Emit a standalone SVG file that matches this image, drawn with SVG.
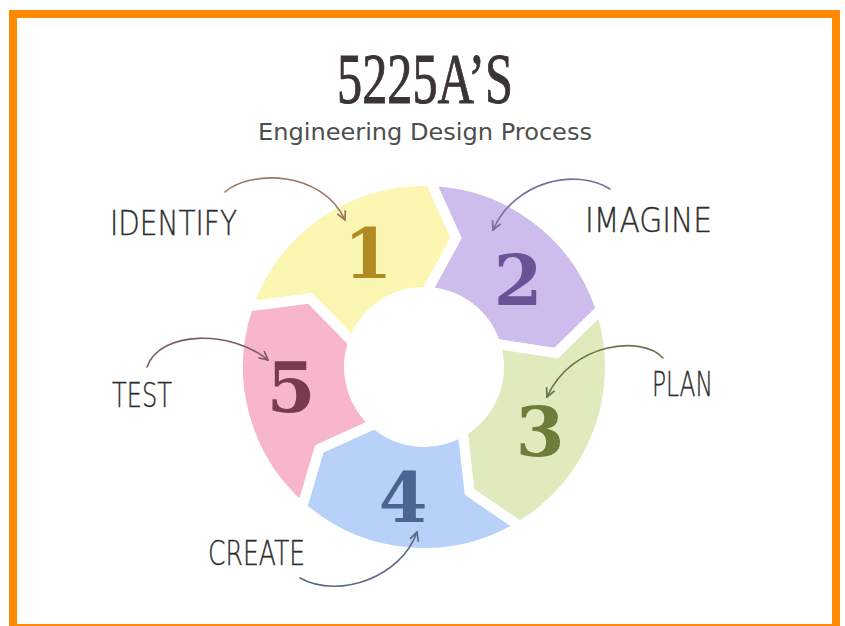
<svg xmlns="http://www.w3.org/2000/svg" width="845" height="626" viewBox="0 0 845 626">
  <style>
    .seg { stroke: #ffffff; stroke-width: 10; stroke-linejoin: miter; stroke-miterlimit: 12; }
    .num { font-family: "DejaVu Serif", "Liberation Serif", serif; font-weight: bold; font-size: 70px; text-anchor: middle; }
    .lbl { font-family: "DejaVu Sans", "Liberation Sans", sans-serif; font-weight: 200; font-size: 34px; fill: #2e2e2e; stroke: #2e2e2e; stroke-width: 0.4; }
    .conn { fill: none; stroke-width: 1.6; stroke-linecap: round; }
  </style>
  <defs>
    <marker id="ah-gold" viewBox="0 0 10 10" refX="9" refY="5" markerWidth="11" markerHeight="11" markerUnits="userSpaceOnUse" orient="auto">
      <path d="M1,1 L9,5 L1,9" fill="none" stroke="#9b7562" stroke-width="1.6"/>
    </marker>
    <marker id="ah-violet" viewBox="0 0 10 10" refX="9" refY="5" markerWidth="11" markerHeight="11" markerUnits="userSpaceOnUse" orient="auto">
      <path d="M1,1 L9,5 L1,9" fill="none" stroke="#7b6d9c" stroke-width="1.6"/>
    </marker>
    <marker id="ah-olive" viewBox="0 0 10 10" refX="9" refY="5" markerWidth="11" markerHeight="11" markerUnits="userSpaceOnUse" orient="auto">
      <path d="M1,1 L9,5 L1,9" fill="none" stroke="#66774f" stroke-width="1.6"/>
    </marker>
    <marker id="ah-slate" viewBox="0 0 10 10" refX="9" refY="5" markerWidth="11" markerHeight="11" markerUnits="userSpaceOnUse" orient="auto">
      <path d="M1,1 L9,5 L1,9" fill="none" stroke="#5b6a82" stroke-width="1.6"/>
    </marker>
    <marker id="ah-plum" viewBox="0 0 10 10" refX="9" refY="5" markerWidth="11" markerHeight="11" markerUnits="userSpaceOnUse" orient="auto">
      <path d="M1,1 L9,5 L1,9" fill="none" stroke="#7d5a68" stroke-width="1.6"/>
    </marker>
  </defs>

  <!-- page and orange frame -->
  <rect x="0" y="0" width="845" height="626" fill="#ffffff"/>
  <rect x="13" y="14" width="823" height="614" fill="#ffffff" stroke="#ff8a00" stroke-width="8"/>

  <!-- heading -->
  <g id="title">
    <text x="337" y="103" font-family="Liberation Serif, serif" font-size="72" fill="#3b3434" stroke="#3b3434" stroke-width="1" textLength="176" lengthAdjust="spacingAndGlyphs">5225A’S</text>
    <text x="258" y="140" font-family="DejaVu Sans, Liberation Sans, sans-serif" font-size="23" fill="#4e4e4e" textLength="334" lengthAdjust="spacingAndGlyphs">Engineering Design Process</text>
  </g>

  <!-- ring of five chevron segments, centre (424,367) -->
  <g id="step-1">
    <path class="seg" fill="#fbf6b2" d="M248.1,306.4 A186,186 0 0 1 430.5,181.1 L456.2,238.0 L426.6,292.0 A75,75 0 0 0 353.1,342.6 L310.0,298.5 Z"/>
    <text class="num" x="368" y="278" fill="#b08a22">1</text>
  </g>
  <g id="step-2">
    <path class="seg" fill="#cebdec" d="M430.5,181.1 A186,186 0 0 1 600.9,309.5 L556.3,353.1 L495.3,343.8 A75,75 0 0 0 426.6,292.0 L456.2,238.0 Z"/>
    <text class="num" x="518" y="305" fill="#6b5196">2</text>
  </g>
  <g id="step-3">
    <path class="seg" fill="#dfeabd" d="M600.9,309.5 A186,186 0 0 1 519.8,526.4 L469.5,492.0 L462.6,431.3 A75,75 0 0 0 495.3,343.8 L556.3,353.1 Z"/>
    <text class="num" x="540" y="456" fill="#6d7d3a">3</text>
  </g>
  <g id="step-4">
    <path class="seg" fill="#b7d1f8" d="M519.8,526.4 A186,186 0 0 1 302.0,507.4 L319.2,448.9 L374.8,423.6 A75,75 0 0 0 462.6,431.3 L469.5,492.0 Z"/>
    <text class="num" x="403" y="522" fill="#4a6590">4</text>
  </g>
  <g id="step-5">
    <path class="seg" fill="#f7b6cb" d="M302.0,507.4 A186,186 0 0 1 248.1,306.4 L310.0,298.5 L353.1,342.6 A75,75 0 0 0 374.8,423.6 L319.2,448.9 Z"/>
    <text class="num" x="291" y="412" fill="#7a3a4e">5</text>
  </g>

  <!-- stage names -->
  <g id="label-identify"><text class="lbl" x="110" y="235" textLength="127" lengthAdjust="spacingAndGlyphs">IDENTIFY</text></g>
  <g id="label-imagine"><text class="lbl" x="585" y="232" textLength="127" lengthAdjust="spacingAndGlyphs">IMAGINE</text></g>
  <g id="label-plan"><text class="lbl" x="652" y="396" textLength="61" lengthAdjust="spacingAndGlyphs">PLAN</text></g>
  <g id="label-create"><text class="lbl" x="208" y="565" textLength="97" lengthAdjust="spacingAndGlyphs">CREATE</text></g>
  <g id="label-test"><text class="lbl" x="112" y="407" textLength="60" lengthAdjust="spacingAndGlyphs">TEST</text></g>

  <!-- curved pointers from names to step numbers -->
  <g id="connectors">
    <path class="conn" stroke="#9b7562" marker-end="url(#ah-gold)" d="M225,192 C250,170 322,170 345,220"/>
    <path class="conn" stroke="#7b6d9c" marker-end="url(#ah-violet)" d="M610,189 C577,168 515,180 493,230"/>
    <path class="conn" stroke="#66774f" marker-end="url(#ah-olive)" d="M663,358 C642,335 572,342 547,397"/>
    <path class="conn" stroke="#5b6a82" marker-end="url(#ah-slate)" d="M300,578 C340,600 402,576 417,532"/>
    <path class="conn" stroke="#7d5a68" marker-end="url(#ah-plum)" d="M147,367 C160,330 232,330 268,360"/>
  </g>
</svg>
